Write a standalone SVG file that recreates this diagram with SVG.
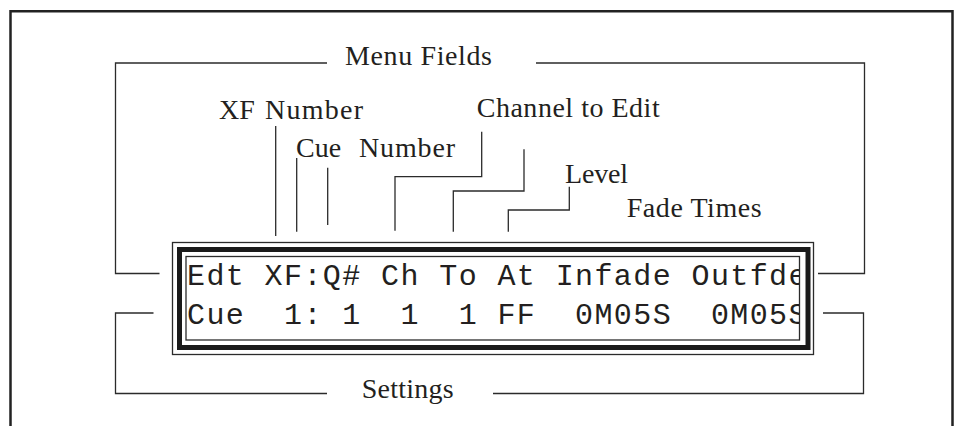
<svg xmlns="http://www.w3.org/2000/svg" width="959" height="426" viewBox="0 0 959 426">
<style>
.lbl{font-family:"Liberation Serif","Times New Roman",serif;font-size:28px;fill:#231f20}
.lcd{font-family:"Liberation Mono","Courier New",monospace;font-size:30px;letter-spacing:1.4px;fill:#231f20}
.ln{fill:none;stroke:#2b2b2b;stroke-width:1.3}
</style>
<defs>
<clipPath id="lcdclip"><rect x="186.5" y="257" width="612.5" height="83"/></clipPath>
</defs>
<rect width="959" height="426" fill="#fff"/>
<path d="M10.5,426 V11.2 H952.5 V426" fill="none" stroke="#222" stroke-width="2.5"/>

<g id="connectors" class="ln">
<path d="M159.5,273.5 H115.5 V63 H327"/>
<path d="M536,63 H864.5 V273.5 H818"/>
<path d="M153.5,313 H115.5 V393.5 H327"/>
<path d="M823,313 H863.5 V393.5 H493"/>
<path d="M275.7,126 V236"/>
<path d="M296.7,158 V231.7"/>
<path d="M327.7,167.7 V225"/>
<path d="M481.7,131.7 V176.7 H395 V230.7"/>
<path d="M524,149.3 V191 H453.3 V231.7"/>
<path d="M569.3,186.7 V210 H508.3 V231.7"/>
</g>

<g id="display">
<rect x="172.5" y="242.5" width="641" height="112" fill="none" stroke="#2b2b2b" stroke-width="1.3"/>
<rect x="179.5" y="249.5" width="628.5" height="98" fill="none" stroke="#1a1a1a" stroke-width="5"/>
<rect x="186" y="256.5" width="613.5" height="83.5" fill="none" stroke="#2b2b2b" stroke-width="1.3"/>
<g clip-path="url(#lcdclip)">
<text class="lcd" x="187" y="285" xml:space="preserve">Edt XF:Q# Ch To At Infade Outfde</text>
<text class="lcd" x="187" y="323.5" xml:space="preserve">Cue  1: 1  1  1 FF  0M05S  0M05S</text>
</g>
</g>

<g id="label-menu-fields"><text class="lbl" x="345" y="65" textLength="147" lengthAdjust="spacing">Menu Fields</text></g>
<g id="label-xf-number"><text class="lbl" x="219" y="119.3">XF <tspan x="265" textLength="98" lengthAdjust="spacing">Number</tspan></text></g>
<g id="label-cue-number"><text class="lbl" x="296" y="156.7">Cue <tspan x="359" textLength="96" lengthAdjust="spacing">Number</tspan></text></g>
<g id="label-channel-to-edit"><text class="lbl" x="476.7" y="116.5" textLength="183" lengthAdjust="spacing">Channel to Edit</text></g>
<g id="label-level"><text class="lbl" x="565" y="183.3" textLength="63" lengthAdjust="spacing">Level</text></g>
<g id="label-fade-times"><text class="lbl" x="626.7" y="216.7" textLength="135" lengthAdjust="spacing">Fade Times</text></g>
<g id="label-settings"><text class="lbl" x="361.7" y="398.3" textLength="92" lengthAdjust="spacing">Settings</text></g>
</svg>
